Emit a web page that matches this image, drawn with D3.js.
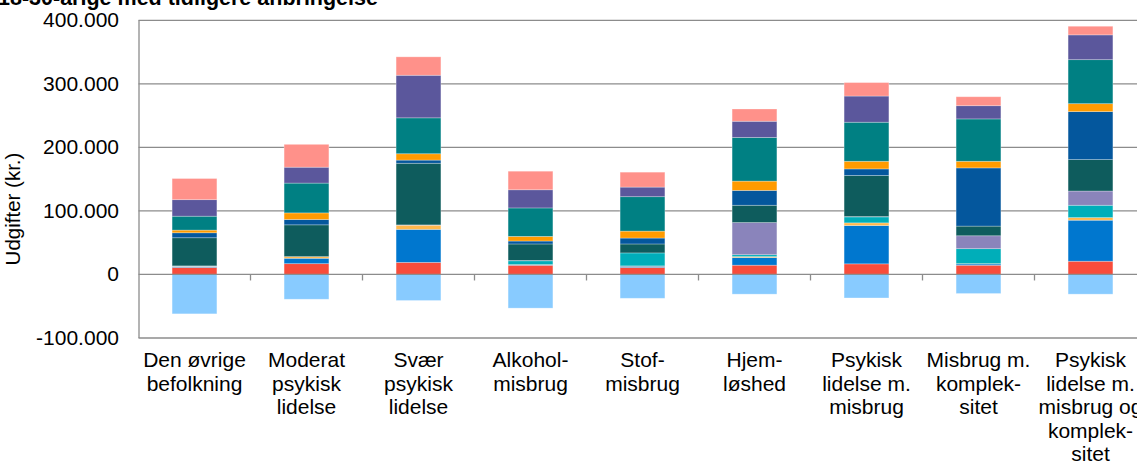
<!DOCTYPE html>
<html>
<head>
<meta charset="utf-8">
<script src="https://cdn.jsdelivr.net/npm/d3@7"></script>
<style>
  html, body { margin: 0; padding: 0; background: #fff; overflow: hidden; }
  svg { display: block; font-family: "Liberation Sans", Arial, Helvetica, sans-serif; }
</style>
</head>
<body>
<svg id="chart" width="1137" height="469"></svg>
<script>
// ---- data (values in 1.000 kr.) ----
const title = "18-30-årige med tidligere anbringelse";
const yAxisTitle = "Udgifter (kr.)";
const categories = [
  ["Den øvrige", "befolkning"],
  ["Moderat", "psykisk", "lidelse"],
  ["Svær", "psykisk", "lidelse"],
  ["Alkohol-", "misbrug"],
  ["Stof-", "misbrug"],
  ["Hjem-", "løshed"],
  ["Psykisk", "lidelse m.", "misbrug"],
  ["Misbrug m.", "komplek-", "sitet"],
  ["Psykisk", "lidelse m.", "misbrug og", "komplek-", "sitet"]
];
const seriesNames = ["s1","s2","s3","s4","s5","s6","s7","s8","s9","s10","s11"];
const s1  = [11, 17, 19, 14.5, 11, 14.6, 16.7, 14.5, 20.8];
const s2  = [1, 8.5, 52, 0.5, 2, 12, 60.3, 2, 64.6];
const s3  = [0.5, 2.6, 6.5, 0.5, 0.5, 1.5, 4.2, 0.5, 4.1];
const s4  = [0.5, 0, 0, 6, 20.4, 3, 9.4, 23.6, 19.4];
const s5  = [0.5, 0, 0.5, 0.5, 0, 50.6, 0.5, 20.3, 22.4];
const s6  = [44.3, 50, 97, 26, 14.1, 27.2, 64.7, 15.2, 49.5];
const s7  = [7.8, 8.4, 5, 4.6, 9.3, 23.4, 10.3, 91.6, 75.5];
const s8  = [4.2, 10.4, 10, 7.3, 10.9, 14.6, 12, 10.4, 12.5];
const s9  = [21.9, 46.9, 56.5, 44.8, 54.2, 68.7, 61.5, 66.7, 69.25];
const s10 = [26, 25, 67, 28.6, 15.1, 25.5, 41.2, 20.8, 39];
const s11 = [33.3, 36, 29, 29.2, 23.5, 19.3, 21.2, 14.1, 13.6];
const negativeSeries = [-62, -39, -41, -53, -37.5, -31, -37, -30, -31];
const yTicks = [-100000, 0, 100000, 200000, 300000, 400000];

const seriesValues = [s1, s2, s3, s4, s5, s6, s7, s8, s9, s10, s11];
const colors = ["#F84C3B","#0077CF","#FFB84C","#00AEB9","#8A84BB","#0E5C5D",
                "#04579D","#FF9B00","#008083","#5B579C","#FF918A"];
const negColor = "#88CBFF";

// ---- build table ----
const keys = categories.map(c => c.join(" "));
const table = keys.map((k, i) => {
  const row = { key: k };
  seriesNames.forEach((n, j) => row[n] = seriesValues[j][i] * 1000);
  row.neg = negativeSeries[i] * 1000;
  return row;
});

const svg = d3.select("#chart");
const plotLeft = 138.5, plotRight = 1146.5, plotTop = 20.3, plotBottom = 338;

const x = d3.scaleBand().domain(keys).range([plotLeft, plotRight]).paddingInner(0.6).paddingOuter(0.3);
const y = d3.scaleLinear().domain([-100000, 400000]).range([plotBottom, plotTop]);

const loc = d3.formatLocale({ decimal: ",", thousands: ".", grouping: [3], currency: ["", ""], minus: "-" });
const fmt = loc.format(",d");

// gridlines
svg.append("g").selectAll("line").data(yTicks.filter(t => t !== 0)).join("line")
  .attr("x1", plotLeft).attr("x2", 1137)
  .attr("y1", d => y(d)).attr("y2", d => y(d))
  .attr("stroke", "#8c8c8c").attr("stroke-width", 1.3);

// stacked bars
const stack = d3.stack().keys(seriesNames);
const stacked = stack(table);
const gBars = svg.append("g");
stacked.forEach((layer, j) => {
  gBars.append("g").attr("fill", colors[j]).selectAll("rect").data(layer).join("rect")
    .attr("x", d => x(d.data.key))
    .attr("width", x.bandwidth())
    .attr("y", d => y(d[1]))
    .attr("height", d => Math.max(0, y(d[0]) - y(d[1])))
    .attr("stroke", "#ffffff").attr("stroke-opacity", 0.35).attr("stroke-width", 0.8);
});
gBars.append("g").attr("fill", negColor).selectAll("rect").data(table).join("rect")
  .attr("x", d => x(d.key))
  .attr("width", x.bandwidth())
  .attr("y", y(0))
  .attr("height", d => y(d.neg) - y(0))
  .attr("stroke", "#ffffff").attr("stroke-opacity", 0.35).attr("stroke-width", 0.8);

// left axis line
svg.append("line").attr("x1", plotLeft + 0.5).attr("x2", plotLeft + 0.5)
  .attr("y1", plotTop).attr("y2", plotBottom)
  .attr("stroke", "#8c8c8c").attr("stroke-width", 1.3);

// zero axis with tick marks at category boundaries
svg.append("line").attr("x1", plotLeft).attr("x2", 1137)
  .attr("y1", y(0)).attr("y2", y(0))
  .attr("stroke", "#8c8c8c").attr("stroke-width", 1.3);
const boundaries = keys.map((k, i) => i).filter(i => i > 0).map(i => x(keys[i]) - x.step() * x.paddingInner() / 2);
svg.append("g").selectAll("line").data(boundaries).join("line")
  .attr("x1", d => d).attr("x2", d => d)
  .attr("y1", y(0)).attr("y2", y(0) + 6)
  .attr("stroke", "#8c8c8c").attr("stroke-width", 1.3);

// y tick labels
svg.append("g").selectAll("text").data(yTicks).join("text")
  .attr("x", 119).attr("y", d => y(d) + 7)
  .attr("text-anchor", "end")
  .attr("font-size", 21).attr("fill", "#000")
  .text(d => fmt(d));

// y axis title
svg.append("text")
  .attr("transform", "translate(20,209) rotate(-90)")
  .attr("text-anchor", "middle")
  .attr("font-size", 20.5).attr("fill", "#000")
  .text(yAxisTitle);

// category labels
const gCat = svg.append("g");
categories.forEach((lines, i) => {
  const t = gCat.append("text")
    .attr("x", x(keys[i]) + x.bandwidth() / 2)
    .attr("y", 367)
    .attr("text-anchor", "middle")
    .attr("font-size", 21).attr("fill", "#000");
  lines.forEach((ln, k) => {
    t.append("tspan").attr("x", x(keys[i]) + x.bandwidth() / 2)
      .attr("dy", k === 0 ? 0 : 23.5).text(ln);
  });
});

// title (cut off at top)
svg.append("text").attr("x", -2).attr("y", 5)
  .attr("font-size", 21.5).attr("font-weight", "bold").attr("fill", "#000")
  .text(title);
</script>
</body>
</html>
